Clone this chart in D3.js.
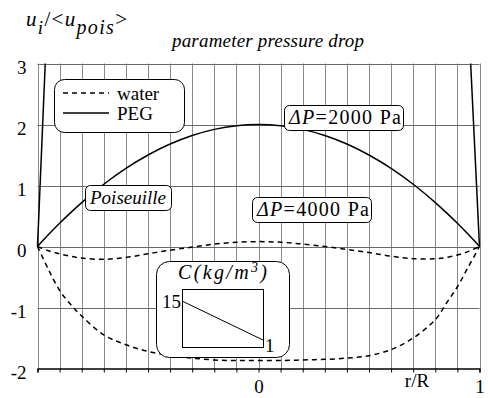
<!DOCTYPE html>
<html><head><meta charset="utf-8">
<script src="https://cdn.jsdelivr.net/npm/d3@7"></script>
<style>
html,body{margin:0;padding:0;background:#fff;}
svg{display:block;}
svg text{font-family:"Liberation Serif","Times New Roman",Times,"DejaVu Serif",serif;}
</style></head><body>
<svg id="chart" width="488" height="398"></svg>
<script>
// Radial positions r/R where the profiles are sampled
const rPos = [-1, -0.95, -0.9, -0.85, -0.8, -0.7, -0.6, -0.5, -0.4, -0.3, -0.2, -0.1, 0,
              0.1, 0.2, 0.3, 0.4, 0.5, 0.6, 0.7, 0.8, 0.85, 0.9, 0.95, 1];
// Poiseuille reference profile u/<u_pois>
const poiseuille = [0, 0.195, 0.38, 0.555, 0.72, 1.02, 1.28, 1.5, 1.68, 1.82, 1.92, 1.98, 2.0,
                    1.98, 1.92, 1.82, 1.68, 1.5, 1.28, 1.02, 0.72, 0.555, 0.38, 0.195, 0];
// water, dP = 2000 Pa
const water2000 = [0, -0.07, -0.12, -0.16, -0.19, -0.21, -0.18, -0.12, -0.06, -0.01, 0.04, 0.07, 0.08,
                   0.07, 0.04, 0.0, -0.05, -0.1, -0.16, -0.2, -0.2, -0.18, -0.14, -0.08, 0];
// water, dP = 4000 Pa
const water4000 = [0, -0.38, -0.72, -0.95, -1.14, -1.45, -1.61, -1.72, -1.79, -1.83, -1.86, -1.87, -1.87,
                   -1.87, -1.86, -1.85, -1.83, -1.79, -1.69, -1.50, -1.20, -0.93, -0.66, -0.33, 0];
// PEG near the walls (leaves the frame at the top)
const pegLeftR = [-1, -0.965];
const pegLeftU = [0, 3];
const pegRightR = [0.96, 1];
const pegRightU = [3, 0];
// Concentration inset: C across the channel
const concPos = [0, 1];
const concVal = [15, 1];

const yTicks = [-2, -1, 0, 1, 2, 3];
const xLabelTicks = [0, 1];
const legendNames = ["water", "PEG"];

const svg = d3.select("#chart");
const x = d3.scaleLinear().domain([-1, 1]).range([37.5, 479.5]);
const y = d3.scaleLinear().domain([-2, 3]).range([368.5, 63.5]);

// grid
const g = svg.append("g");
g.selectAll(".vg").data(x.ticks(20)).join("line")
  .attr("x1", d => Math.round(x(d)) + 0.5).attr("x2", d => Math.round(x(d)) + 0.5)
  .attr("y1", y(3)).attr("y2", y(-2))
  .attr("stroke", "#8a8a8a").attr("stroke-width", 1);
g.selectAll(".hg").data(yTicks.filter(d => d > -2)).join("line")
  .attr("x1", x(-1)).attr("x2", x(1))
  .attr("y1", d => Math.round(y(d)) + 0.5).attr("y2", d => Math.round(y(d)) + 0.5)
  .attr("stroke", "#6a6a6a").attr("stroke-width", 1);

// bottom axis with small ticks
const xAxisTicks = d3.axisBottom(x).tickValues(x.ticks(20)).tickSize(4).tickFormat("");
svg.append("g").attr("transform", `translate(0,${y(-2)})`).call(xAxisTicks)
  .call(s => s.select(".domain").attr("stroke", "#000").attr("stroke-width", 1.3))
  .call(s => s.selectAll(".tick line").attr("stroke", "#000"));

// tick labels
const yAxis = d3.axisLeft(y).tickValues(yTicks).tickSize(0).tickPadding(11).tickFormat(d => String(d));
svg.append("g").attr("transform", `translate(${x(-1)},0)`).call(yAxis)
  .attr("font-family", null)
  .call(s => s.select(".domain").remove())
  .call(s => s.selectAll("text").attr("font-size", 19).attr("dy", "0.5em").attr("fill", "#000"));
const xAxis = d3.axisBottom(x).tickValues(xLabelTicks).tickSize(0).tickPadding(6).tickFormat(d => String(d));
svg.append("g").attr("transform", `translate(0,${y(-2)})`).call(xAxis)
  .attr("font-family", null)
  .call(s => s.select(".domain").remove())
  .call(s => s.selectAll("text").attr("font-size", 19).attr("dy", "0.95em").attr("fill", "#000"));
svg.append("text").attr("x", 417).attr("y", 387).attr("text-anchor", "middle")
  .attr("font-size", 19).text("r/R");

// curves
const line = d3.line().x(d => x(d[0])).y(d => y(d[1])).curve(d3.curveCatmullRom.alpha(0.5));
const curves = svg.append("g").attr("fill", "none").attr("stroke", "#000");
curves.append("path").datum(rPos.map((r, i) => [r, poiseuille[i]]))
  .attr("d", line).attr("stroke-width", 1.5);
curves.append("path").datum(rPos.map((r, i) => [r, water2000[i]]))
  .attr("d", line).attr("stroke-width", 1.5).attr("stroke-dasharray", "5,4");
curves.append("path").datum(rPos.map((r, i) => [r, water4000[i]]))
  .attr("d", line).attr("stroke-width", 1.5).attr("stroke-dasharray", "5,4");
const straight = d3.line().x(d => x(d[0])).y(d => y(d[1]));
curves.append("path").datum(pegLeftR.map((r, i) => [r, pegLeftU[i]]))
  .attr("d", straight).attr("stroke-width", 1.5);
curves.append("path").datum(pegRightR.map((r, i) => [r, pegRightU[i]]))
  .attr("d", straight).attr("stroke-width", 1.5);

// framed labels
function box(bx, by, bw, bh, rx) {
  return svg.append("rect").attr("x", bx).attr("y", by).attr("width", bw).attr("height", bh)
    .attr("rx", rx).attr("fill", "#fff").attr("stroke", "#000").attr("stroke-width", 1);
}

// legend
box(54.5, 79.5, 130, 53, 10);
const legendStyles = ["5,4", null];
legendNames.forEach((name, i) => {
  const ly = 93 + i * 20;
  svg.append("line").attr("x1", 63).attr("x2", 109).attr("y1", ly).attr("y2", ly)
    .attr("stroke", "#000").attr("stroke-width", 1.5)
    .attr("stroke-dasharray", legendStyles[i]);
  svg.append("text").attr("x", 117).attr("y", ly + 7).attr("font-size", 19).text(name);
});

// pressure-drop labels
function dpLabel(bx, by, value) {
  box(bx + 0.5, by + 0.5, 119, 25, 5);
  const t = svg.append("text").attr("x", bx + 5).attr("y", by + 19).attr("font-size", 20)
    .attr("textLength", 112).attr("lengthAdjust", "spacing");
  t.append("tspan").attr("font-style", "italic").text("\u0394P");
  t.append("tspan").text("=");
  t.append("tspan").text(value + " Pa");
}
dpLabel(284, 105, 2000);
dpLabel(252, 197, 4000);

box(85.5, 185.5, 86, 25, 5);
svg.append("text").attr("x", 90).attr("y", 204).attr("font-size", 19)
  .attr("font-style", "italic").text("Poiseuille");

// concentration inset
box(156.5, 261.5, 133, 96, 13);
const ct = svg.append("text").attr("x", 178).attr("y", 279).attr("font-size", 20)
  .attr("font-style", "italic").attr("textLength", 89).attr("lengthAdjust", "spacing");
ct.append("tspan").text("C(kg/m");
ct.append("tspan").attr("font-size", 14).attr("dy", -7).text("3");
ct.append("tspan").attr("dy", 7).text(")");
const cx = d3.scaleLinear().domain([0, 1]).range([182, 263]);
const cy = d3.scaleLinear().domain([1, 15]).range([340, 301]);
svg.append("rect").attr("x", 182.5).attr("y", 289.5).attr("width", 81).attr("height", 58)
  .attr("fill", "none").attr("stroke", "#000").attr("stroke-width", 1);
svg.append("path").datum(concPos.map((p, i) => [p, concVal[i]]))
  .attr("d", d3.line().x(d => cx(d[0])).y(d => cy(d[1])))
  .attr("fill", "none").attr("stroke", "#000").attr("stroke-width", 1);
svg.append("text").attr("x", 181).attr("y", 308).attr("text-anchor", "end")
  .attr("font-size", 19).text(concVal[0]);
svg.append("text").attr("x", 265).attr("y", 352).attr("font-size", 19).text(concVal[1]);

// titles
svg.append("text").attr("x", 172).attr("y", 47).attr("font-size", 19)
  .attr("font-style", "italic").attr("textLength", 192).attr("lengthAdjust", "spacing")
  .text("parameter pressure drop");
const yl = svg.append("text").attr("x", 26).attr("y", 26).attr("font-size", 21)
  .attr("textLength", 101).attr("lengthAdjust", "spacing");
yl.append("tspan").attr("font-style", "italic").text("u");
yl.append("tspan").attr("font-style", "italic").attr("font-size", 19).attr("dy", 8).text("i");
yl.append("tspan").attr("dy", -8).text("/<");
yl.append("tspan").attr("font-style", "italic").text("u");
yl.append("tspan").attr("font-style", "italic").attr("font-size", 20).attr("dy", 8).text("pois");
yl.append("tspan").attr("dy", -8).text(">");
</script>
</body></html>
